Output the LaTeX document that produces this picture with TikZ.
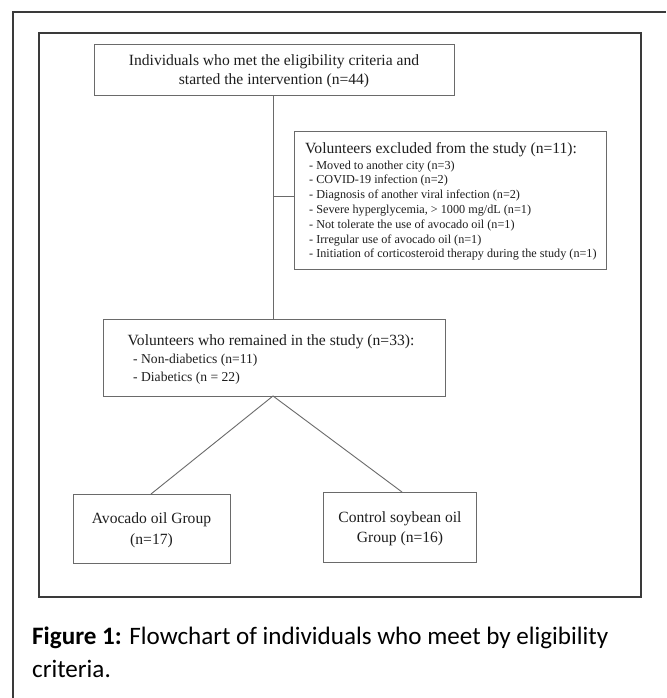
\documentclass[tikz,border=0pt]{standalone}
\usepackage{fontspec}
\setmainfont{Liberation Serif}
\newfontfamily\capfont{Carlito}
\definecolor{framec}{HTML}{3A3A3A}
\definecolor{boxc}{HTML}{6A6A6A}
\definecolor{txtc}{HTML}{1E1E1E}
\begin{document}
\begin{tikzpicture}[x=1pt,y=-1pt,
  framestyle/.style={draw=framec,line width=1.1pt},
  boxstyle/.style={draw=boxc,line width=1pt,anchor=north west,inner sep=0pt,outer sep=0pt},
  linkstyle/.style={draw=boxc,line width=0.9pt},
  bigtxt/.style={inner sep=0pt,text=txtc,font=\fontsize{15.6}{18}\selectfont},
  smalltxt/.style={inner sep=0pt,text=txtc,font=\fontsize{12.2}{14}\selectfont},
  midtxt/.style={inner sep=0pt,text=txtc,font=\fontsize{13.6}{16}\selectfont},
  captxt/.style={inner sep=0pt,text=black,font=\capfont\fontsize{25.1}{30}\selectfont,anchor=base west}
]
\useasboundingbox (0,0) rectangle (666,698);
\fill[white] (0,0) rectangle (666,698);
% frames
\draw[framestyle] (13,698) -- (13,12) -- (666,12);
\draw[framestyle] (39,33) rectangle (641,597);
% boxes
\node[boxstyle,minimum width=360pt,minimum height=51pt] (b1) at (94,45) {};
\node[boxstyle,minimum width=312pt,minimum height=138pt] (b2) at (294,131) {};
\node[boxstyle,minimum width=342pt,minimum height=77pt] (b3) at (103,319) {};
\node[boxstyle,minimum width=157pt,minimum height=69pt] (b4) at (73,494) {};
\node[boxstyle,minimum width=153pt,minimum height=70pt] (b5) at (323,492) {};
% texts box 1
\node[bigtxt,anchor=base] (t1a) at (274,66) {Individuals who met the eligibility criteria and};
\node[bigtxt,anchor=base] (t1b) at (274,85) {started the intervention (n=44)};
% texts box 2
\node[bigtxt,anchor=base west] (t2) at (305,153) {Volunteers excluded from the study (n=11):};
\node[smalltxt,anchor=base west] (t2a) at (309,169) {- Moved to another city (n=3)};
\node[smalltxt,anchor=base west] (t2b) at (309,183.8) {- COVID-19 infection (n=2)};
\node[smalltxt,anchor=base west] (t2c) at (309,198.6) {- Diagnosis of another viral infection (n=2)};
\node[smalltxt,anchor=base west] (t2d) at (309,213.4) {- Severe hyperglycemia, > 1000 mg/dL (n=1)};
\node[smalltxt,anchor=base west] (t2e) at (309,228.2) {- Not tolerate the use of avocado oil (n=1)};
\node[smalltxt,anchor=base west] (t2f) at (309,243) {- Irregular use of avocado oil (n=1)};
\node[smalltxt,anchor=base west] (t2g) at (309,257.8) {- Initiation of corticosteroid therapy during the study (n=1)};
% texts box 3
\node[bigtxt,anchor=base west] (t3) at (127.5,345) {Volunteers who remained in the study (n=33):};
\node[midtxt,anchor=base west] (t3a) at (133,363.5) {- Non-diabetics (n=11)};
\node[midtxt,anchor=base west] (t3b) at (133,381) {- Diabetics (n = 22)};
% texts box 4 and 5
\node[bigtxt,anchor=base] (t4a) at (151.5,523) {Avocado oil Group};
\node[bigtxt,anchor=base] (t4b) at (151.5,544) {(n=17)};
\node[bigtxt,anchor=base] (t5a) at (400,522) {Control soybean oil};
\node[bigtxt,anchor=base] (t5b) at (400,542) {Group (n=16)};
% connectors
\coordinate (j) at (273,196);
\coordinate (top) at (273,96);
\coordinate (bot) at (273,319);
\draw[linkstyle] (b1.south -| top) -- (b3.north -| bot);
\draw[linkstyle] (j) -- (j -| b2.west);
\coordinate (apex) at (273,396);
\coordinate (e4) at (151,494);
\coordinate (e5) at (402,492);
\draw[linkstyle] (e4 |- b4.north) -- (apex |- b3.south) -- (e5 |- b5.north);
% caption
\node[captxt] (c1) at (32,644) {\textbf{Figure 1:} Flowchart of individuals who meet by eligibility};
\node[captxt] (c2) at (32,677) {criteria.};
\end{tikzpicture}
\end{document}
